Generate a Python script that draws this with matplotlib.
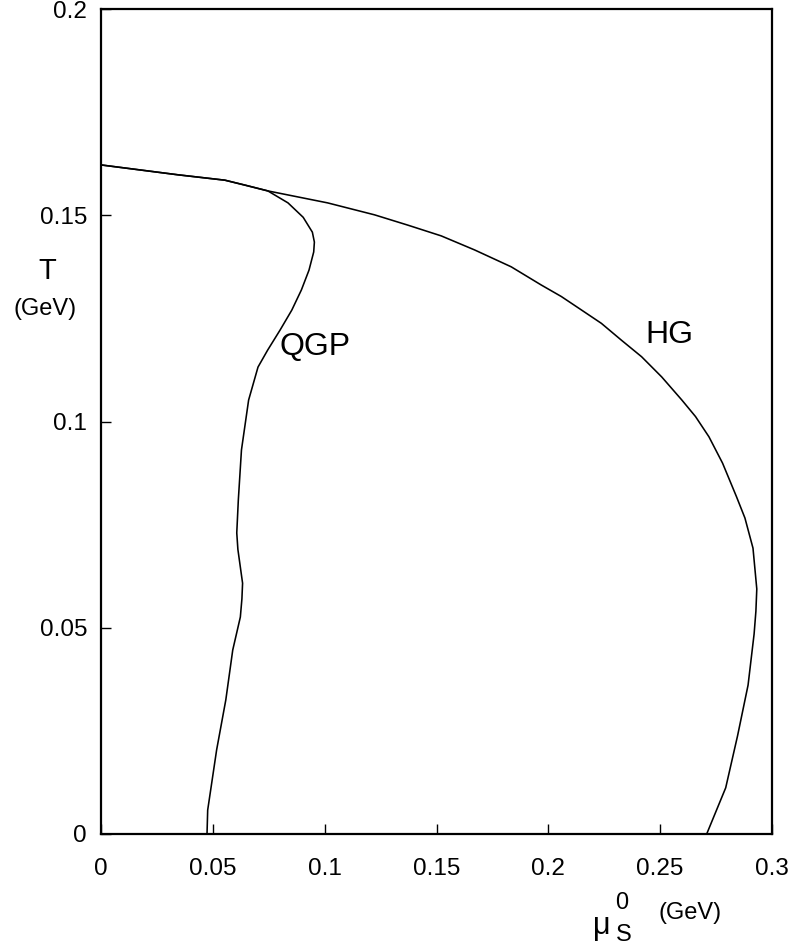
import matplotlib
matplotlib.use("Agg")
import matplotlib.pyplot as plt

plt.rcParams['font.family'] = ['Liberation Sans', 'DejaVu Sans']

# HG phase boundary (mu_s^0 in GeV, T in GeV)
hg_mu = [0.0, 0.0345, 0.0554, 0.0644, 0.0746, 0.1013, 0.1223, 0.1372,
         0.1521, 0.1670, 0.1834, 0.1968, 0.2058, 0.2149, 0.2237, 0.2327,
         0.2417, 0.2507, 0.2597, 0.2658, 0.2718, 0.2779, 0.2841, 0.2879,
         0.2915, 0.2932, 0.2928, 0.2920, 0.2893, 0.2846, 0.2793, 0.2708]
hg_T = [0.1622, 0.1598, 0.1585, 0.1573, 0.1559, 0.1530, 0.1501, 0.1476,
        0.1450, 0.1416, 0.1375, 0.1331, 0.1303, 0.1270, 0.1238, 0.1197,
        0.1157, 0.1108, 0.1052, 0.1012, 0.0963, 0.0899, 0.0818, 0.0766,
        0.0693, 0.0594, 0.0540, 0.0485, 0.0361, 0.0238, 0.0112, 0.0]

# QGP phase boundary
qgp_mu = [0.0, 0.0345, 0.0554, 0.0644, 0.0746, 0.0836, 0.0904, 0.0945,
          0.0954, 0.0951, 0.0930, 0.0896, 0.0853, 0.0801, 0.0745, 0.0702,
          0.0660, 0.0628, 0.0614, 0.0607, 0.0612, 0.0623, 0.0633, 0.0630,
          0.0623, 0.0589, 0.0558, 0.0517, 0.0477, 0.0474]
qgp_T = [0.1622, 0.1598, 0.1585, 0.1573, 0.1559, 0.1530, 0.1495, 0.1459,
         0.1435, 0.1411, 0.1367, 0.1319, 0.1270, 0.1222, 0.1173, 0.1132,
         0.1052, 0.0931, 0.0810, 0.0730, 0.0690, 0.0647, 0.0608, 0.0570,
         0.0526, 0.0446, 0.0325, 0.0204, 0.0058, 0.0]

xticks = [0, 0.05, 0.1, 0.15, 0.2, 0.25, 0.3]
xticklabels = ['0', '0.05', '0.1', '0.15', '0.2', '0.25', '0.3']
yticks = [0, 0.05, 0.1, 0.15, 0.2]
yticklabels = ['0', '0.05', '0.1', '0.15', '0.2']

W, H = 791, 949
fig = plt.figure(figsize=(W / 100, H / 100), dpi=100)
ax = fig.add_axes([101 / W, 1 - 834 / H, (772 - 101) / W, (834 - 9) / H])

ax.plot(hg_mu, hg_T, color='black', lw=1.15, solid_joinstyle='round')
ax.plot(qgp_mu, qgp_T, color='black', lw=1.15, solid_joinstyle='round')

ax.set_xlim(0, 0.3)
ax.set_ylim(0, 0.2)
ax.set_xticks(xticks)
ax.set_xticklabels(xticklabels)
ax.set_yticks(yticks)
ax.set_yticklabels(yticklabels)
ax.tick_params(axis='x', direction='in', length=7, width=1.0, labelsize=17.5, pad=17)
ax.tick_params(axis='y', direction='in', length=7, width=1.0, labelsize=17.5, pad=10)
for s in ax.spines.values():
    s.set_linewidth(1.6)

ax.text(0.0957, 0.118, 'QGP', fontsize=23, ha='center', va='center')
ax.text(0.254, 0.121, 'HG', fontsize=23, ha='center', va='center')

# y-axis label
fig.text(47 / W, 1 - 271 / H, 'T', fontsize=21, ha='center', va='center')
fig.text(45 / W, 1 - 309 / H, '(GeV)', fontsize=17, ha='center', va='center')

# x-axis label
fig.text(602 / W, 1 - 926 / H, 'μ', fontsize=22, ha='center', va='center')
fig.text(622 / W, 1 - 903 / H, '0', fontsize=17, ha='center', va='center')
fig.text(624 / W, 1 - 935 / H, 'S', fontsize=17, ha='center', va='center')
fig.text(690 / W, 1 - 913 / H, '(GeV)', fontsize=17, ha='center', va='center')

fig.savefig('out.png', dpi=100, facecolor='white')
